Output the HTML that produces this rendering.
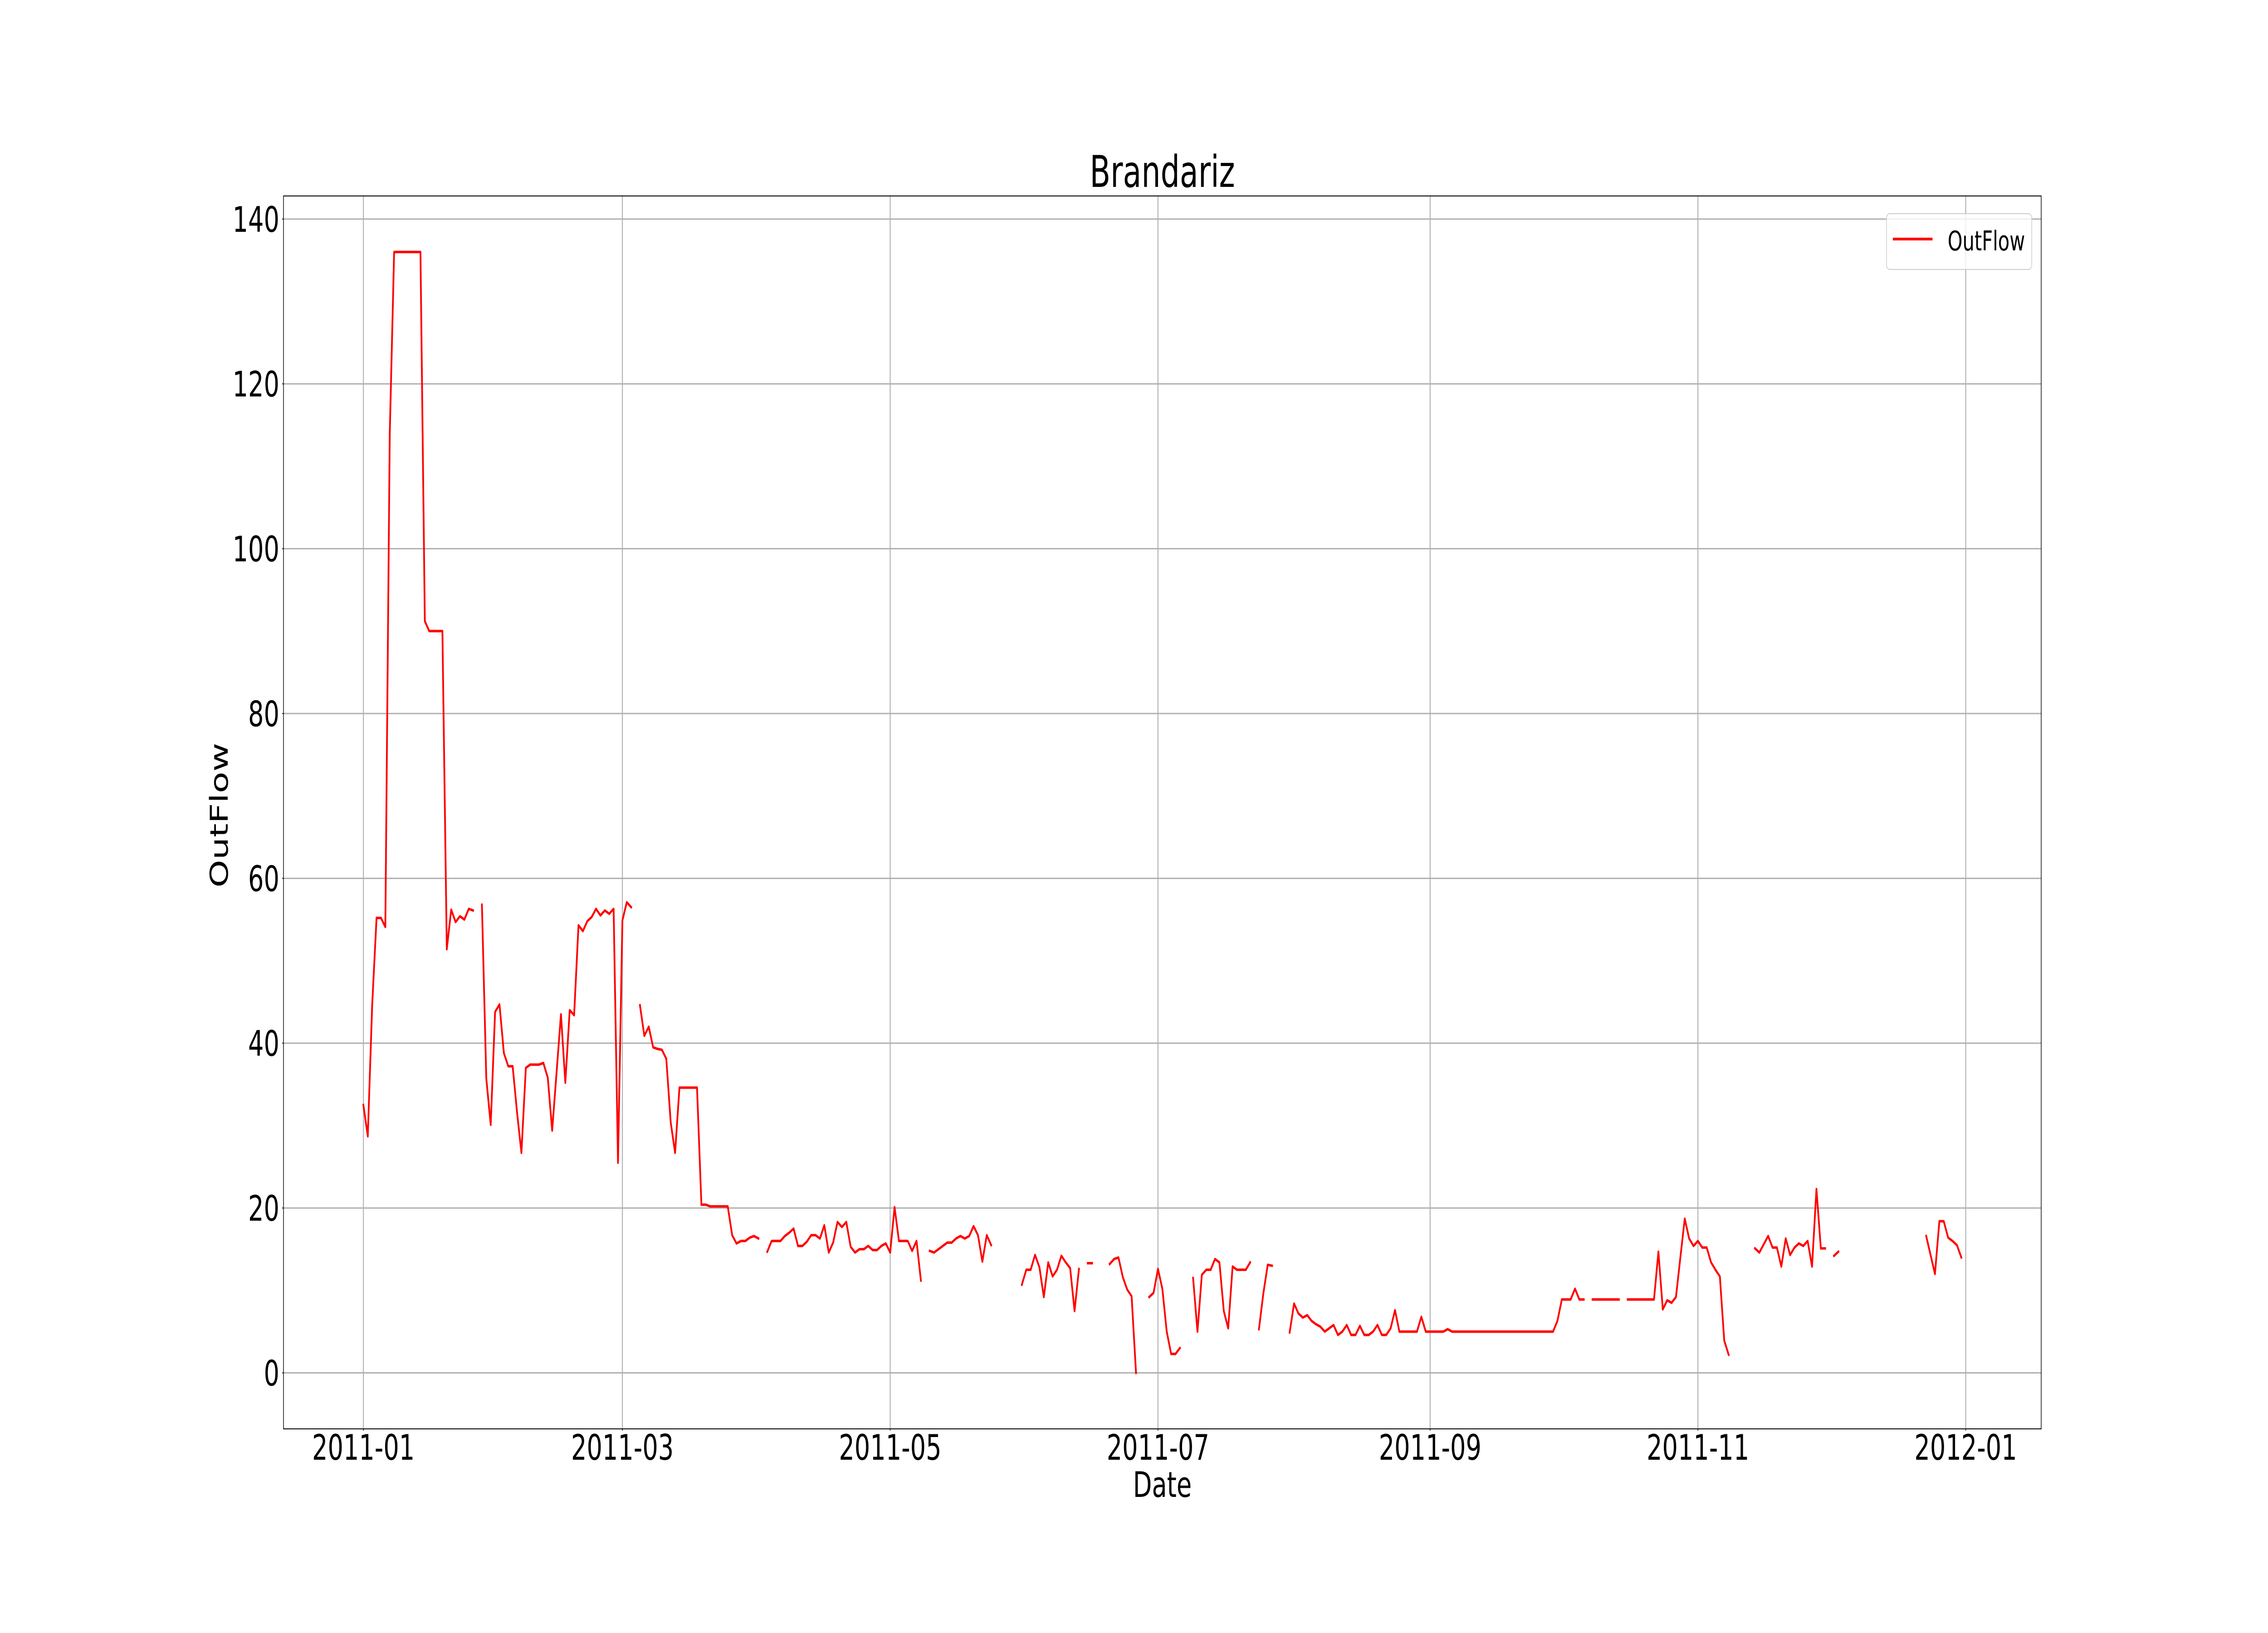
<!DOCTYPE html>
<html>
<head>
<meta charset="utf-8">
<style>
  html, body { margin: 0; padding: 0; background: #ffffff; width: 100%; height: 100%; overflow: hidden; }
  svg { display: block; width: 100vw; height: 100vh; font-family: "DejaVu Sans", "Liberation Sans", sans-serif; }
</style>
</head>
<body>
<svg id="chart" xmlns="http://www.w3.org/2000/svg" width="100%" height="100%" viewBox="0 0 7200 3600" preserveAspectRatio="none">
  <rect x="0" y="0" width="7200" height="3600" fill="#ffffff"/>
  <g id="grid"></g>
  <g id="series"></g>
  <rect x="900" y="432" width="5580" height="2718" fill="none" stroke="#000000" stroke-width="2"/>
  <g id="ticks"></g>
  <text x="3690" y="412" font-size="96" text-anchor="middle" fill="#000">Brandariz</text>
  <text x="3690" y="3300" font-size="78" text-anchor="middle" fill="#000">Date</text>
  <text x="0" y="0" font-size="78" text-anchor="middle" fill="#000" transform="translate(723,1797) rotate(-90)">OutFlow</text>
  <g>
    <rect x="5989" y="471" width="461" height="123" rx="10" ry="10" fill="#ffffff" fill-opacity="0.8" stroke="#cccccc" stroke-width="2"/>
    <line x1="6009" y1="527" x2="6135" y2="527" stroke="#ff0000" stroke-width="6"/>
    <text x="6183" y="552" font-size="60" fill="#000">OutFlow</text>
  </g>
</svg>
<script>
// ---- chart data ----
const startDate = "2011-01-01";
const outflowValues = [
32.5,28.7,44.6,55.2,55.2,54.1,113.9,136,136,136,
136,136,136,136,91.2,90,90,90,90,51.4,
56.2,54.7,55.4,55.0,56.3,56.1,null,56.8,35.7,30.1,
43.8,44.7,38.8,37.2,37.2,31.6,26.7,37.0,37.4,37.4,
37.4,37.6,35.8,29.4,36.4,43.5,35.2,44.0,43.4,54.3,
53.6,54.8,55.3,56.3,55.5,56.1,55.7,56.3,25.5,54.9,
57.1,56.5,null,44.6,40.9,42.0,39.5,39.3,39.2,38.1,
30.4,26.7,34.6,34.6,34.6,34.6,34.6,20.4,20.4,20.2,
20.2,20.2,20.2,20.2,16.7,15.7,16.0,16.0,16.4,16.6,
16.3,null,14.7,16.0,16.0,16.0,16.6,17.0,17.5,15.4,
15.4,15.9,16.7,16.7,16.3,17.9,14.6,15.8,18.3,17.7,
18.3,15.3,14.6,15.0,15.0,15.4,14.9,14.9,15.4,15.7,
14.6,20.1,16.0,16.0,16.0,14.8,16.0,11.2,null,14.8,
14.6,15.0,15.4,15.8,15.8,16.3,16.6,16.3,16.6,17.8,
16.7,13.5,16.7,15.5,null,null,null,null,null,null,
10.7,12.5,12.5,14.3,12.8,9.2,13.4,11.7,12.5,14.2,
13.4,12.7,7.5,12.6,null,13.3,13.3,null,null,null,
13.2,13.8,14.0,11.6,10.1,9.3,0,null,null,9.2,
9.7,12.6,10.2,5.0,2.3,2.3,3.0,null,null,11.5,
5.0,11.9,12.5,12.5,13.8,13.4,7.5,5.4,12.9,12.5,
12.5,12.5,13.4,null,5.3,9.6,13.1,13.0,null,null,
null,4.9,8.4,7.2,6.7,7.0,6.3,5.9,5.6,5.0,
5.4,5.8,4.6,5.0,5.8,4.6,4.6,5.7,4.6,4.6,
5.0,5.8,4.6,4.6,5.4,7.6,5.0,5.0,5.0,5.0,
5.0,6.8,5.0,5.0,5.0,5.0,5.0,5.3,5.0,5.0,
5.0,5.0,5.0,5.0,5.0,5.0,5.0,5.0,5.0,5.0,
5.0,5.0,5.0,5.0,5.0,5.0,5.0,5.0,5.0,5.0,
5.0,5.0,6.3,8.9,8.9,8.9,10.2,8.9,8.9,null,
8.9,8.9,8.9,8.9,8.9,8.9,8.9,null,8.9,8.9,
8.9,8.9,8.9,8.9,8.9,14.7,7.7,8.8,8.5,9.2,
14.0,18.7,16.3,15.4,16.0,15.2,15.2,13.4,12.5,11.7,
3.9,2.2,null,null,null,null,null,15.1,14.6,15.6,
16.6,15.2,15.2,12.9,16.3,14.3,15.2,15.7,15.4,16.0,
12.9,22.3,15.1,15.1,null,14.2,14.7,null,null,null,
null,null,null,null,null,null,null,null,null,null,
null,null,null,null,null,null,16.6,14.3,12.0,18.4,
18.4,16.4,16.0,15.5,14.0
];
const yTickValues = [0, 20, 40, 60, 80, 100, 120, 140];
const xTickDates = ["2011-01-01", "2011-03-01", "2011-05-01", "2011-07-01", "2011-09-01", "2011-11-01", "2012-01-01"];
const xTickLabels = ["2011-01", "2011-03", "2011-05", "2011-07", "2011-09", "2011-11", "2012-01"];

// ---- axes ----
const NS = "http://www.w3.org/2000/svg";
const plot = { left: 900, right: 6480, top: 432, bottom: 3150 };
const DAY = 86400000;
const t0 = Date.parse(startDate);
function dayIndex(d) { return Math.round((Date.parse(d) - t0) / DAY); }
const nDays = outflowValues.length;
const xSpan = nDays - 1;
const xMin = -0.05 * xSpan, xMax = xSpan * 1.05;
let vMax = -Infinity, vMin = Infinity;
outflowValues.forEach(v => { if (v !== null) { vMax = Math.max(vMax, v); vMin = Math.min(vMin, v); } });
const yPad = 0.05 * (vMax - vMin);
const yMin = vMin - yPad, yMax = vMax + yPad;
function xScale(d) { return plot.left + (d - xMin) / (xMax - xMin) * (plot.right - plot.left); }
function yScale(v) { return plot.bottom - (v - yMin) / (yMax - yMin) * (plot.bottom - plot.top); }

const grid = document.getElementById("grid");
const ticks = document.getElementById("ticks");
const series = document.getElementById("series");

yTickValues.forEach(v => {
  const y = yScale(v);
  const gl = document.createElementNS(NS, "line");
  
  
  gl.setAttribute("x1", plot.left); gl.setAttribute("x2", plot.right);
  gl.setAttribute("y1", y); gl.setAttribute("y2", y);
  gl.setAttribute("stroke", "#b0b0b0"); gl.setAttribute("stroke-width", "3");
  grid.appendChild(gl);
  const tm = document.createElementNS(NS, "line");
  
  
  tm.setAttribute("x1", plot.left - 4); tm.setAttribute("x2", plot.left);
  tm.setAttribute("y1", y); tm.setAttribute("y2", y);
  tm.setAttribute("stroke", "#000"); tm.setAttribute("stroke-width", "2");
  ticks.appendChild(tm);
  const tx = document.createElementNS(NS, "text");
  
  
  tx.setAttribute("x", 887); tx.setAttribute("y", y + 28);
  tx.setAttribute("font-size", "78"); tx.setAttribute("text-anchor", "end");
  tx.textContent = String(v);
  ticks.appendChild(tx);
});

xTickDates.forEach((d, i) => {
  const x = xScale(dayIndex(d));
  const gl = document.createElementNS(NS, "line");
  
  
  gl.setAttribute("x1", x); gl.setAttribute("x2", x);
  gl.setAttribute("y1", plot.top); gl.setAttribute("y2", plot.bottom);
  gl.setAttribute("stroke", "#b0b0b0"); gl.setAttribute("stroke-width", "3");
  grid.appendChild(gl);
  const tm = document.createElementNS(NS, "line");
  
  
  tm.setAttribute("x1", x); tm.setAttribute("x2", x);
  tm.setAttribute("y1", plot.bottom); tm.setAttribute("y2", plot.bottom + 4);
  tm.setAttribute("stroke", "#000"); tm.setAttribute("stroke-width", "2");
  ticks.appendChild(tm);
  const tx = document.createElementNS(NS, "text");
  
  
  tx.setAttribute("x", x); tx.setAttribute("y", 3218);
  tx.setAttribute("font-size", "78"); tx.setAttribute("text-anchor", "middle");
  tx.textContent = xTickLabels[i];
  ticks.appendChild(tx);
});

// ---- series (break at null gaps) ----
let d = "";
let penDown = false;
outflowValues.forEach((v, i) => {
  if (v === null) { penDown = false; return; }
  const x = xScale(i).toFixed(1), y = yScale(v).toFixed(1);
  d += (penDown ? " L" : " M") + x + " " + y;
  penDown = true;
});
const path = document.createElementNS(NS, "path");


path.setAttribute("d", d.trim());
path.setAttribute("fill", "none");
path.setAttribute("stroke", "#ff0000");
path.setAttribute("stroke-width", "5.5");
path.setAttribute("stroke-linejoin", "round");
path.setAttribute("stroke-linecap", "square");
series.appendChild(path);
</script>
</body>
</html>
